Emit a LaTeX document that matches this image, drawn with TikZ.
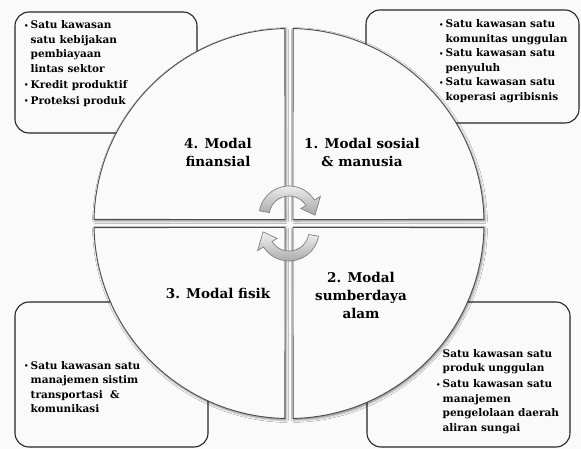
\documentclass[tikz,border=0pt]{standalone}
\usepackage{fontspec}
\setmainfont{DejaVu Serif}
\usetikzlibrary{shadows.blur}

\newcommand{\butir}{\raisebox{0.5pt}{\scriptsize\textbullet}}

\begin{document}
\begin{tikzpicture}[x=1pt, y=-1pt,
    kotak/.style={draw=black!85, line width=1.1pt, rounded corners=14pt, fill=black!2},
    isi/.style={inner sep=0pt, anchor=base west, font=\fontsize{10.5}{14.5}\selectfont\bfseries},
    kuadran/.style={draw=black!70, line width=0.9pt, fill=black!2,
      blur shadow={shadow xshift=1pt, shadow yshift=-1.5pt, shadow blur radius=2.5pt, shadow opacity=50}},
    judul/.style={align=center, font=\fontsize{13.5}{18}\selectfont\bfseries},
    panah/.style={draw=black!50, line width=0.7pt, top color=black!5, bottom color=black!35}]
  \useasboundingbox[fill=black!2] (0,0) rectangle (581,449);

  % Kotak
  \node[kotak, minimum width=182pt, minimum height=121pt] (kTL) at (106,72.5) {};
  \node[kotak, minimum width=213pt, minimum height=113pt] (kTR) at (472.5,66.5) {};
  \node[kotak, minimum width=193pt, minimum height=145pt] (kBL) at (111.5,374.5) {};
  \node[kotak, minimum width=203pt, minimum height=145pt] (kBR) at (468.5,374.5) {};

  % Lingkaran
  \coordinate (o) at (289,223.5);
  \foreach \sx/\sy/\a in {1/-1/0, -1/-1/-90, -1/1/-180, 1/1/-270}
    \draw[kuadran] ([shift={(\sx*4,\sy*4)}]o) -- ([shift={(\a-1.2:195)}]o)
      arc[start angle=\a-1.2, end angle=\a-88.8, radius=195] -- cycle;

  \node[judul] (m4) at (218,152) {4. Modal\\finansial};
  \node[judul] (m1) at (362,152) {1. Modal sosial\\\& manusia};
  \node[judul] (m3) at (218,293) {3. Modal fisik};
  \node[judul] (m2) at (361,295) {2. Modal\\sumberdaya\\alam};

  % Panah
  \path[panah, shift={(289,216)}] (190:30) arc[start angle=190, end angle=328, radius=30]
    -- (328:37) -- (358:26) -- (328:14) -- (328:20)
    arc[start angle=328, end angle=190, radius=20] -- cycle;
  \path[panah, shift={(289,231)}, rotate=180] (190:30) arc[start angle=190, end angle=328, radius=30]
    -- (328:37) -- (358:26) -- (328:14) -- (328:20)
    arc[start angle=328, end angle=190, radius=20] -- cycle;

  % Isi
  \node[isi] (tTL) at (24,29) {\begin{tabular}[t]{@{}l@{\hspace{2pt}}l@{}}
    \butir & Satu kawasan\\ & satu kebijakan\\ & pembiayaan\\ & lintas sektor\\[1.5pt]
    \butir & Kredit produktif\\[1.5pt] \butir & Proteksi produk\end{tabular}};
  \node[isi] (tTR) at (439,28) {\begin{tabular}[t]{@{}l@{\hspace{2pt}}l@{}}
    \butir & Satu kawasan satu\\ & komunitas unggulan\\
    \butir & Satu kawasan satu\\ & penyuluh\\
    \butir & Satu kawasan satu\\ & koperasi agribisnis\end{tabular}};
  \node[isi] (tBL) at (24,369) {\begin{tabular}[t]{@{}l@{\hspace{2pt}}l@{}}
    \butir & Satu kawasan satu\\ & manajemen sistim\\ & transportasi \ \&\\ & komunikasi\end{tabular}};
  \node[isi] (tBR) at (436,357) {\begin{tabular}[t]{@{}l@{\hspace{2pt}}l@{}}
    & Satu kawasan satu\\ & produk unggulan\\[1.5pt]
    \butir & Satu kawasan satu\\ & manajemen\\ & pengelolaan daerah\\ & aliran sungai\end{tabular}};
\end{tikzpicture}
\end{document}
